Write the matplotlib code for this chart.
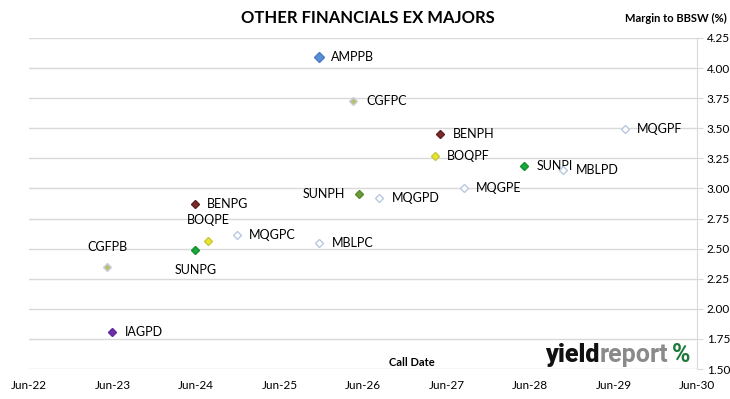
import matplotlib
matplotlib.use("Agg")
import matplotlib.pyplot as plt
import matplotlib.dates as mdates
import pandas as pd

plt.rcParams['font.family'] = ['Lato', 'DejaVu Sans']

# Data
codes = ["AMPPB", "CGFPC", "BENPH", "BOQPF", "SUNPI", "MBLPD", "MQGPF", "MQGPE", "SUNPH",
         "MQGPD", "BENPG", "BOQPE", "MQGPC", "MBLPC", "SUNPG", "CGFPB", "IAGPD"]
call_dates = ["2025-11-20", "2026-04-20", "2027-05-05", "2027-04-10", "2028-05-05", "2028-10-25",
              "2029-07-20", "2027-08-15", "2026-05-15", "2026-08-10", "2024-05-25", "2024-07-25",
              "2024-11-25", "2025-11-20", "2024-05-28", "2023-05-10", "2023-06-01"]
margins = [4.09, 3.73, 3.45, 3.27, 3.19, 3.15, 3.49, 3.00, 2.95,
           2.92, 2.87, 2.56, 2.61, 2.55, 2.49, 2.35, 1.81]

# issuer -> (face colour, edge colour)
issuer_colours = {
    "AMP": ("#5B8ED6", "#4A7CC4"),
    "CGF": ("#B9BF6E", "#C9CFE0"),
    "BEN": ("#7A2A2A", "#5E1E1E"),
    "BOQ": ("#E8E82A", "#C8C83A"),
    "SUN": ("#1AAA3A", "#139030"),
    "SUNPH": ("#6B9B3A", "#5A8A30"),
    "MQG": ("white", "#B8C8E2"),
    "MBL": ("white", "#B8C8E2"),
    "IAG": ("#7030A0", "#6028A0"),
}

# label placement: (dx, dy, ha, va) in points
label_pos = {
    "SUNPH": (-10, 0, "right", "center"),
    "BOQPE": (0, 11, "center", "bottom"),
    "SUNPG": (0, -10, "center", "top"),
    "CGFPB": (0, 10, "center", "bottom"),
}

dates = pd.to_datetime(call_dates)

fig = plt.figure(figsize=(7.3, 3.99), dpi=100)
ax = fig.add_axes([29 / 730, 1 - 369 / 399, (697 - 29) / 730, (369 - 38) / 399])

for code, d, m in zip(codes, dates, margins):
    face, edge = issuer_colours.get(code, issuer_colours[code[:3]])
    ms = 5.5 if code == "AMPPB" else 4.2
    ax.plot(d, m, marker="D", ms=ms, mfc=face, mec=edge, mew=1.0, ls="none", zorder=3)
    dx, dy, ha, va = label_pos.get(code, (9, 0, "left", "center"))
    ax.annotate(code, (d, m), xytext=(dx, dy), textcoords="offset points",
                ha=ha, va=va, fontsize=9, color="#000000")

ax.set_ylim(1.5, 4.25)
ax.set_yticks([1.5 + 0.25 * i for i in range(12)])
ax.yaxis.set_major_formatter(matplotlib.ticker.FormatStrFormatter("%.2f"))
ax.yaxis.tick_right()
ax.tick_params(axis="y", labelsize=8.5, length=4, color="#D9D9D9", pad=3)

ax.set_xlim(pd.Timestamp("2022-06-01"), pd.Timestamp("2030-06-01"))
ax.set_xticks(pd.date_range("2022-06-01", "2030-06-01", freq="12MS"))
ax.xaxis.set_major_formatter(mdates.DateFormatter("%b-%y"))
ax.tick_params(axis="x", labelsize=8.5, length=0, pad=8)

ax.grid(axis="y", color="#D9D9D9", lw=1)
ax.set_axisbelow(True)
for side in ["top", "left", "bottom"]:
    ax.spines[side].set_visible(False)
ax.spines["right"].set_color("#D9D9D9")

fig.text(368 / 730, 1 - 18 / 399, "OTHER FINANCIALS EX MAJORS", ha="center", va="center",
         fontsize=12, fontweight="bold")
fig.text(727 / 730, 1 - 18 / 399, "Margin to BBSW (%)", ha="right", va="center",
         fontsize=8, fontweight="bold")
fig.text(412 / 730, 1 - 362 / 399, "Call Date", ha="center", va="center",
         fontsize=8, fontweight="bold")

# yieldreport logo
t1 = fig.text(545 / 730, 1 - 362 / 399, "yield", fontsize=18, fontweight="heavy",
              color="#111111", ha="left", va="baseline", family="Roboto")
t2 = ax.annotate("report", xy=(1, 0), xycoords=t1, fontsize=18, fontweight="bold",
                 color="#8A8A8A", ha="left", va="bottom", family="Roboto")
ax.annotate("%", xy=(1, 0), xycoords=t2, xytext=(3, 0), textcoords="offset points",
            fontsize=18, fontweight="bold", color="#1E7A3A", ha="left", va="bottom",
            family="Roboto")

fig.savefig("out.png", dpi=100)
